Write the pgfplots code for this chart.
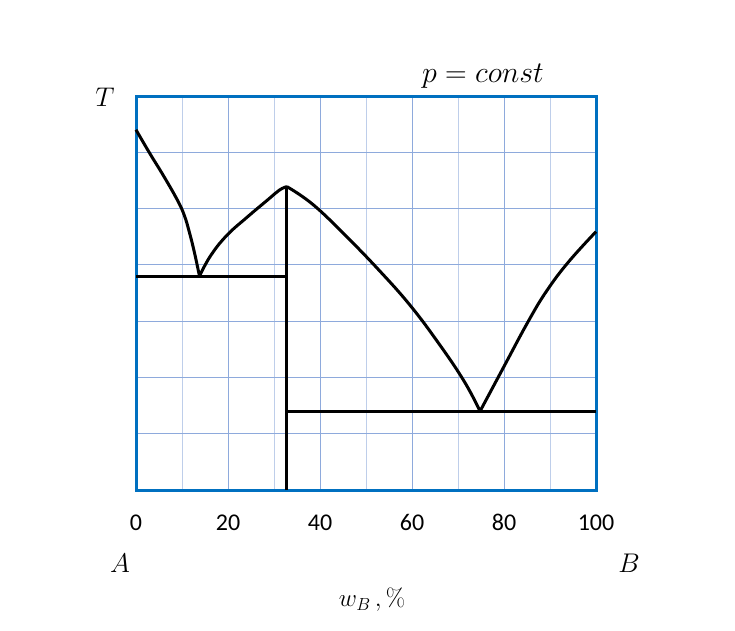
\RequirePackage{fix-cm}
\documentclass[border=0pt]{standalone}
\usepackage{pgfplots}
\pgfplotsset{compat=1.18}
\usepackage[no-math]{fontspec}
\setmainfont{Carlito}
\definecolor{axblue}{RGB}{0,112,192}
\definecolor{gmaj}{RGB}{142,170,220}
\definecolor{gmin}{RGB}{190,206,234}
\begin{document}
\begin{tikzpicture}[x=1pt,y=1pt]
\useasboundingbox (0,0) rectangle (735,630);
\begin{axis}[
  at={(136pt,140pt)}, anchor=south west,
  scale only axis, width=460pt, height=394pt,
  xmin=0, xmax=100, ymin=0, ymax=7,
  xtick={0,20,...,100}, minor xtick={10,30,...,90},
  ytick={1,...,6}, yticklabels={},
  major tick length=0pt, minor tick length=0pt,
  grid=both,
  major grid style={gmaj, line width=1pt},
  minor grid style={gmin, line width=1pt},
  axis line style={axblue, line width=3pt},
  /pgf/number format/assume math mode=true,
  xticklabel style={font=\fontsize{24}{28}\selectfont, yshift=-21pt},
  clip=false,
]
\addplot[black, line width=3pt, smooth, tension=0.7] coordinates {(0,6.40) (3,5.98) (6,5.58) (9,5.15) (10.5,4.88) (11.6,4.58) (12.7,4.22) (13.8,3.80)};
\addplot[black, line width=3pt, smooth, tension=0.7] coordinates {(13.8,3.80) (16.2,4.16) (19.7,4.52) (24.2,4.85) (28.7,5.16) (31.2,5.33) (32.8,5.39)};
\addplot[black, line width=3pt, smooth, tension=0.7] coordinates {(32.8,5.39) (38.5,5.07) (45.8,4.50) (53.0,3.89) (59.5,3.29) (65.5,2.64) (71.2,1.95) (74.8,1.40)};
\addplot[black, line width=3pt, smooth, tension=0.7] coordinates {(74.8,1.40) (79.9,2.18) (85.3,3.00) (89.3,3.54) (94,4.05) (100,4.59)};
\addplot[black, line width=3pt] coordinates {(0,3.80) (32.8,3.80)};
\addplot[black, line width=3pt] coordinates {(32.8,1.40) (100,1.40)};
\addplot[black, line width=3pt] coordinates {(32.8,0) (32.8,5.39)};
\end{axis}
\node at (105,533) {\fontsize{27}{32}\selectfont $T$};
\node at (483,554) {\fontsize{30}{36}\selectfont $p=const$};
\node at (120,67) {\fontsize{27}{32}\selectfont $A$};
\node at (629,67) {\fontsize{27}{32}\selectfont $B$};
\node at (372,30) {\fontsize{25}{30}\selectfont $w_B\,, \%$};
\end{tikzpicture}
\end{document}
